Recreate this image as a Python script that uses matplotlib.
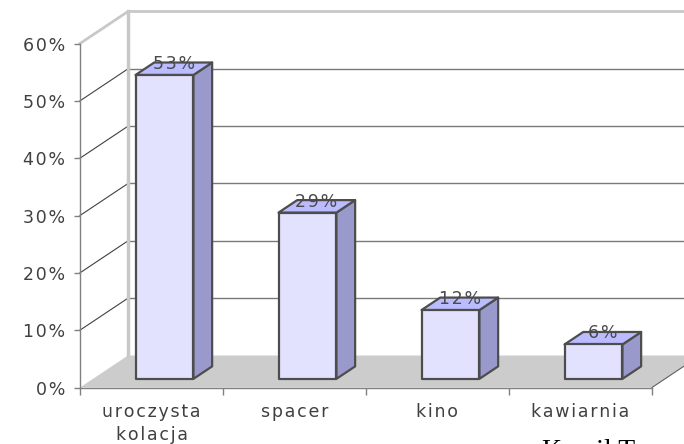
import numpy as np
import matplotlib.pyplot as plt
from matplotlib.patches import Polygon
from matplotlib.ticker import FuncFormatter

categories = ["uroczysta\nkolacja", "spacer", "kino", "kawiarnia"]
values = [53, 29, 12, 6]
value_labels = ["53%", "29%", "12%", "6%"]
yticks = [0, 10, 20, 30, 40, 50, 60]

# fake 3d: depth offset (in data units) of the back wall
DX = 48 / 143
DY = 32 / 5.733


def proj(x, y, f):
    return (x + f * DX, y + f * DY)


def track(s):
    # wider letter spacing, like Verdana in the original
    return "\n".join("\u200a".join(line) for line in s.split("\n"))


fig = plt.figure(figsize=(6.84, 4.44), dpi=100)
ax = fig.add_axes([80 / 684, 56.5 / 444, 572 / 684, 344 / 444])
ax.set_xlim(0, 4)
ax.set_ylim(0, 60)
ax.set_facecolor("none")

n = len(categories)
wall = "#C8C8C8"
grid = "#7A7A7A"

# floor
floor = Polygon([proj(0, 0, 0), proj(n, 0, 0), proj(n, 0, 1), proj(0, 0, 1)],
                closed=True, facecolor="#CCCCCC", edgecolor="none", clip_on=False, zorder=1)
ax.add_patch(floor)
x0, y0 = proj(n, 0, 0)
x1, y1 = proj(n, 0, 1)
ax.plot([x0, x1], [y0, y1], color="#606060", lw=0.8, clip_on=False, zorder=2)

# walls and grid
for v in yticks[1:-1]:
    a, b = proj(0, v, 0), proj(0, v, 1)
    ax.plot([a[0], b[0]], [a[1], b[1]], color="#404040", lw=0.8, clip_on=False, zorder=1)
    c = proj(n, v, 1)
    ax.plot([b[0], c[0]], [b[1], c[1]], color=grid, lw=1.0, clip_on=False, zorder=1)
top = yticks[-1]
pts = [proj(0, top, 0), proj(0, top, 1), proj(n, top, 1)]
ax.plot([p[0] for p in pts], [p[1] for p in pts], color=wall, lw=2, clip_on=False, zorder=1)
a, b = proj(0, 0, 1), proj(0, top, 1)
ax.plot([a[0], b[0]], [a[1], b[1]], color=wall, lw=2.5, clip_on=False, zorder=1)

# bars
width = 0.405
f0, f1 = 0.27, 0.66
edge = "#4D4D4D"
for i, (v, lab) in enumerate(zip(values, value_labels)):
    xl = i + 0.5 - width / 2
    xr = i + 0.5 + width / 2
    front = [proj(xl, 0, f0), proj(xr, 0, f0), proj(xr, v, f0), proj(xl, v, f0)]
    topf = [proj(xl, v, f0), proj(xr, v, f0), proj(xr, v, f1), proj(xl, v, f1)]
    side = [proj(xr, 0, f0), proj(xr, 0, f1), proj(xr, v, f1), proj(xr, v, f0)]
    for poly, col in [(side, "#9999CC"), (topf, "#BBBBFF"), (front, "#E2E2FF")]:
        ax.add_patch(Polygon(poly, closed=True, facecolor=col, edgecolor=edge,
                             lw=1.6, joinstyle="round", clip_on=False, zorder=3))
    tx, ty = proj(i + 0.5, v, 0.46)
    ax.text(tx, ty, track(lab), ha="center", va="baseline", fontsize=12.5,
            color="#4A4A4A", zorder=4, clip_on=False)

# axes styling
for s in ["top", "right"]:
    ax.spines[s].set_visible(False)
for s in ["left", "bottom"]:
    ax.spines[s].set_color("#808080")
    ax.spines[s].set_linewidth(1.0)
    ax.spines[s].set_zorder(2)

ax.set_yticks(yticks)
ax.yaxis.set_major_formatter(FuncFormatter(lambda v, p: track(f"{v:.0f}%")))
ax.tick_params(axis="y", colors="#808080", labelcolor="#404040", length=4.5,
               width=1, pad=6, labelsize=12.5)

ax.set_xticks(np.arange(n + 1))
ax.set_xticklabels([])
ax.set_xticks(np.arange(n) + 0.5, minor=True)
ax.set_xticklabels([track(c) for c in categories], minor=True, linespacing=1.4)
ax.tick_params(axis="x", which="major", colors="#808080", length=5, width=1)
ax.tick_params(axis="x", which="minor", length=0, pad=11, labelcolor="#404040",
               labelsize=12.5)

fig.text(542 / 684, -14 / 444, "Kamil T", family="Liberation Serif",
         fontsize=20, color="black", va="baseline")

fig.savefig("out.png", dpi=100)
